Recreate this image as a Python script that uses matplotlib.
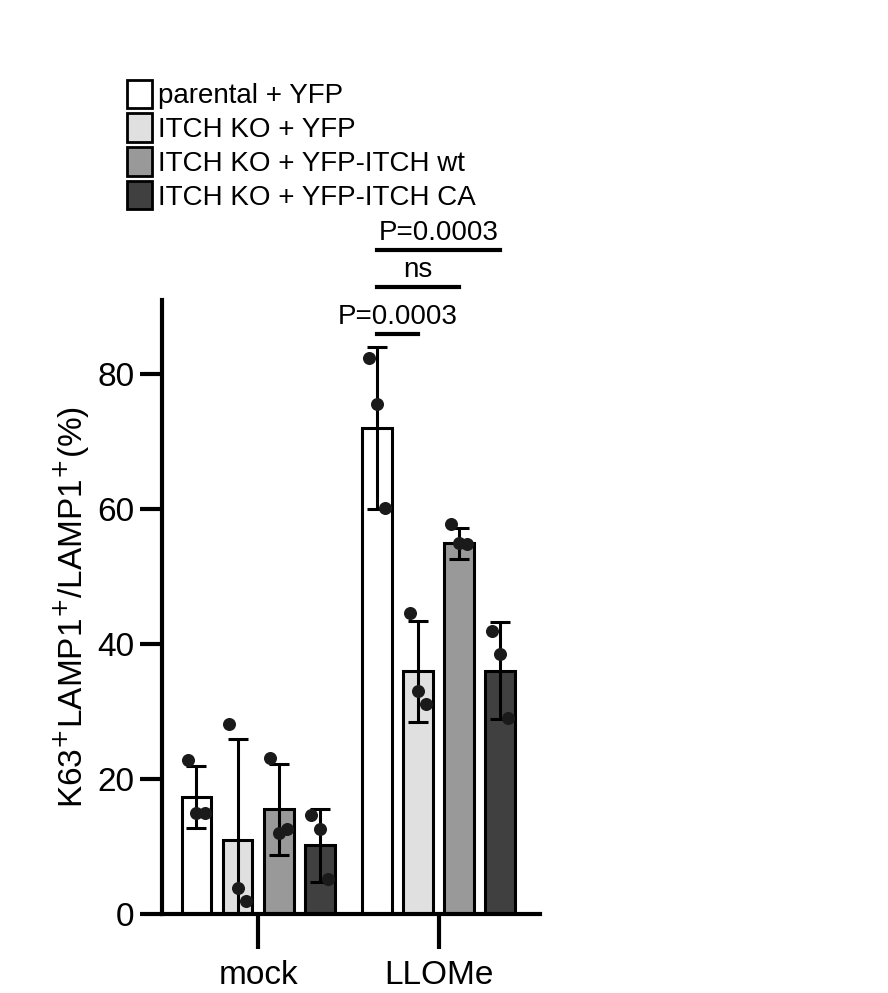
import numpy as np
import matplotlib.pyplot as plt
from matplotlib.patches import Patch

plt.rcParams['font.family'] = 'Liberation Sans'

groups = ['mock', 'LLOMe']
labels = ['parental + YFP', 'ITCH KO + YFP', 'ITCH KO + YFP-ITCH wt', 'ITCH KO + YFP-ITCH CA']
colors = ['#ffffff', '#e0e0e0', '#999999', '#404040']

means = [17.3, 11.0, 15.5, 10.2, 72.0, 36.0, 55.0, 36.1]
sds = [4.6, 15.0, 6.8, 5.4, 12.0, 7.5, 2.3, 7.2]
points = [[22.8, 15.0, 15.0], [28.1, 3.8, 1.9], [23.1, 12.0, 12.6], [14.6, 12.6, 5.2],
          [82.4, 75.6, 60.2], [44.7, 33.0, 31.2], [57.8, 55.0, 54.8], [41.9, 38.6, 29.0]]
xpos = [0, 1, 2, 3, 4.4, 5.4, 6.4, 7.4]
pt_dx = [-0.2, 0.0, 0.2]

fig = plt.figure(figsize=(8.88, 9.93), dpi=100)
ax = fig.add_axes([0.182, 0.0796, 0.426, 0.618])

for i in range(8):
    ax.bar(xpos[i], means[i], width=0.73, color=colors[i % 4], edgecolor='black', linewidth=2.2, zorder=2)
    ax.errorbar(xpos[i], means[i], yerr=sds[i], color='black', capsize=7, elinewidth=2.2, capthick=2.2, zorder=3)
    # the dots are spread a little left-right
    ax.scatter([xpos[i] + d for d in pt_dx], points[i], color='#1a1a1a', s=70, zorder=4)

ax.set_xlim(-0.85, 8.37)
ax.set_ylim(0, 91)
ax.set_yticks([0, 20, 40, 60, 80])
ax.set_xticks([1.5, 5.9])
ax.set_xticklabels(groups)
ax.tick_params(axis='y', labelsize=24, width=3, length=16)
ax.tick_params(axis='x', labelsize=24, width=3, length=25, pad=8)
for s in ['top', 'right']:
    ax.spines[s].set_visible(False)
for s in ['left', 'bottom']:
    ax.spines[s].set_linewidth(3)
ax.set_ylabel('K63$^{+}$LAMP1$^{+}$/LAMP1$^{+}$(%)', fontsize=24)

# significance bars
sig = [(4.4, 5.4, 86.0, 'P=0.0003'), (4.4, 6.4, 92.9, 'ns'), (4.4, 7.4, 98.5, 'P=0.0003')]
for x1, x2, y, txt in sig:
    ax.plot([x1, x2], [y, y], color='black', lw=3, clip_on=False)
    ax.text((x1 + x2) / 2, y + 0.6, txt, ha='center', va='bottom', fontsize=20, clip_on=False)

handles = [Patch(facecolor=c, edgecolor='black', linewidth=2) for c in colors]
fig.legend(handles, labels, loc='upper left', bbox_to_anchor=(0.115, 0.945), frameon=False,
           fontsize=20, handlelength=0.9, handleheight=1.2, handletextpad=0.2, labelspacing=0.15)

fig.savefig('out.png', dpi=100)
